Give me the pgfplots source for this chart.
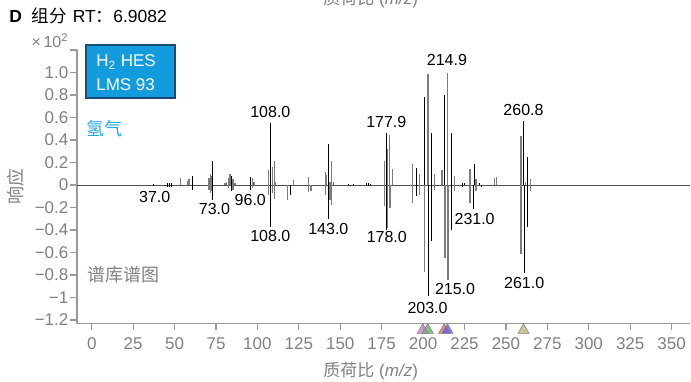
\documentclass[border=0pt]{standalone}
\usepackage{fontspec}
\setmainfont{Liberation Sans}
\newfontfamily\cjk{Noto Sans CJK SC}
\usepackage{pgfplots}
\usepackage{pgfplotstable}
\pgfplotsset{compat=1.18}
\definecolor{axgray}{HTML}{9A9A9A}
\definecolor{tlgray}{HTML}{808080}
\definecolor{specgray}{HTML}{7C7C7C}
\definecolor{zerogray}{HTML}{505050}
\definecolor{boxblue}{HTML}{139CDD}
\definecolor{boxedge}{HTML}{1B4B72}
\definecolor{hblue}{HTML}{22A7E6}
\definecolor{tripink}{HTML}{D27AD2}
\definecolor{trigreen}{HTML}{6FAA6F}
\definecolor{trired}{HTML}{E4705A}
\definecolor{triblue}{HTML}{6A5CE6}
\definecolor{triolive}{HTML}{B8B878}

\pgfplotstableread{
mz v
37 0.008
46 0.02
47 0.02
48 0.02
60.6 0.08
73 0.21
84.3 0.08
96 0.074
108 0.55
143 0.364
155 0.01
158 0.012
166 0.015
167 0.015
168 0.01
177.9 0.46
196 0.155
201 0.785
205 0.46
213 0.80
217 0.46
224 0.02
225 0.02
230.8 0.19
234 0.02
260.8 0.57
263 0.245
}\topblack

\pgfplotstableread{
mz v
53.6 0.06
57.6 0.04
58.8 0.05
70.7 0.06
71.5 0.10
72.2 0.08
80.4 0.02
81.5 0.03
82.5 0.06
83.4 0.095
85.3 0.05
86.4 0.02
97.1 0.065
98 0.03
106.5 0.133
109.2 0.16
110.2 0.21
111 0.03
121.7 0.044
130.7 0.07
141.2 0.12
141.8 0.09
143.8 0.03
144.8 0.21
146 0.03
176.6 0.21
178.6 0.317
179.6 0.445
181.7 0.14
193.8 0.19
197.8 0.10
202.9 0.987
206.8 0.10
211.5 0.13
214.9 1.0
219 0.08
228.4 0.14
232 0.05
243 0.06
244.5 0.07
259 0.44
262 0.03
265 0.05
}\topgray

\pgfplotstableread{
mz v
37 -0.012
46 -0.02
47 -0.02
48 -0.02
60.6 -0.04
73 -0.13
84.3 -0.05
96 -0.044
108 -0.37
120 -0.09
143 -0.30
156 -0.01
167 -0.012
178 -0.40
196 -0.10
203 -0.99
205 -0.50
217 -0.40
224 -0.02
230.5 -0.21
235 -0.02
261 -0.78
263 -0.376
}\botblack

\pgfplotstableread{
mz v
70.7 -0.04
71.5 -0.07
72.2 -0.05
82.5 -0.03
85.3 -0.04
97.1 -0.03
106.5 -0.09
109.2 -0.074
110.2 -0.12
118 -0.13
130.7 -0.06
132.3 -0.05
141.2 -0.09
143.8 -0.13
144.8 -0.18
176.6 -0.19
178.6 -0.38
180 -0.20
193.8 -0.16
197.8 -0.085
201 -0.77
206.8 -0.04
213.2 -0.65
215 -0.84
219 -0.05
228.4 -0.16
232 -0.05
259 -0.61
265 -0.05
}\botgray

\begin{document}
\begin{tikzpicture}
\begin{axis}[
  scale only axis, width=367.8pt, height=164.16pt,
  at={(0,0)}, anchor=south west,
  xmin=-8.9, xmax=361.1, ymin=-1.232, ymax=1.2,
  axis x line*=bottom, axis y line*=left,
  axis line style={draw=axgray, line width=0.8pt},
  xtick={0,25,50,75,100,125,150,175,200,225,250,275,300,325,350},
  xticklabels={0,25,50,75,100,125,150,175,200,225,250,275,300,325,350},
  ytick={-1.2,-1.0,-0.8,-0.6,-0.4,-0.2,0,0.2,0.4,0.6,0.8,1.0,1.2},
  yticklabels={−1.2,−1,−0.8,−0.6,−0.4,−0.2,0,0.2,0.4,0.6,0.8,1.0,{}},
  tick align=outside, major tick length=4pt,
  tick style={draw=axgray, line width=0.7pt},
  ticklabel style={font=\fontsize{10.2}{12}\selectfont, text=tlgray},
  yticklabel style={inner sep=1pt},
  xticklabel style={yshift=-1pt},
  clip=false,
]
\addplot[zerogray, line width=0.6pt] coordinates {(-8.9,0) (361.1,0)};
\addplot[ycomb, draw=specgray, line width=0.8pt] table[x=mz,y=v]{\topgray};
\addplot[ycomb, draw=specgray, line width=0.8pt] table[x=mz,y=v]{\botgray};
\addplot[ycomb, draw=black, line width=0.6pt] table[x=mz,y=v]{\topblack};
\addplot[ycomb, draw=black, line width=0.6pt] table[x=mz,y=v]{\botblack};

\addplot[only marks, mark=triangle*, mark size=3.9pt, mark options={fill=tripink, draw=gray, fill opacity=0.8, line width=0.3pt}] coordinates {(199.8,-1.29)};
\addplot[only marks, mark=triangle*, mark size=3.9pt, mark options={fill=trigreen, draw=gray, fill opacity=0.8, line width=0.3pt}] coordinates {(202.8,-1.29)};
\addplot[only marks, mark=triangle*, mark size=3.9pt, mark options={fill=trired, draw=gray, fill opacity=0.8, line width=0.3pt}] coordinates {(212.7,-1.29)};
\addplot[only marks, mark=triangle*, mark size=3.9pt, mark options={fill=triblue, draw=gray, fill opacity=0.8, line width=0.3pt}] coordinates {(214.7,-1.29)};
\addplot[only marks, mark=triangle*, mark size=3.9pt, mark options={fill=triolive, draw=gray, fill opacity=0.8, line width=0.3pt}] coordinates {(260.6,-1.29)};

\begin{scope}[every node/.style={font=\fontsize{9.6}{11}\selectfont, inner sep=0pt}]
\node at (axis cs:38,-0.107) {37.0};
\node at (axis cs:74.1,-0.209) {73.0};
\node at (axis cs:95.7,-0.133) {96.0};
\node at (axis cs:107.8,0.649) {108.0};
\node at (axis cs:107.8,-0.451) {108.0};
\node at (axis cs:142.8,-0.388) {143.0};
\node at (axis cs:177.8,0.563) {177.9};
\node at (axis cs:178.1,-0.458) {178.0};
\node at (axis cs:214.4,1.107) {214.9};
\node at (axis cs:202.7,-1.089) {203.0};
\node at (axis cs:219.3,-0.923) {215.0};
\node at (axis cs:231.1,-0.30) {231.0};
\node at (axis cs:260.6,0.667) {260.8};
\node at (axis cs:261.0,-0.869) {261.0};
\end{scope}
\end{axis}

\begin{scope}[shift={(-46.2pt,194.16pt)},x=0.6pt,y=-0.6pt]
\node[anchor=base west, inner sep=0pt, font=\fontsize{10.5}{12}\selectfont] at (9,22) {\textbf{D}\hspace{6pt}{\cjk 组分}\hspace{3.5pt}RT{\cjk ：}6.9082};
\node[anchor=center, inner sep=0pt, text=tlgray, font=\fontsize{9.6}{11}\selectfont] at (50,41) {×\,10\textsuperscript{2}};
\draw[fill=boxblue, draw=boxedge, line width=0.9pt] (86,45) rectangle (175,98);
\node[anchor=base west, inner sep=0pt, text=white, font=\fontsize{10.2}{12}\selectfont] at (96,66.7) {H\textsubscript{2} HES};
\node[anchor=base west, inner sep=0pt, text=white, font=\fontsize{10.2}{12}\selectfont] at (96,90.7) {LMS 93};
\node[anchor=center, inner sep=0pt, text=hblue, font=\cjk\fontsize{10.8}{12}\selectfont] at (104.7,128.7) {氢气};
\node[anchor=center, inner sep=0pt, text=tlgray, font=\cjk\fontsize{10.8}{12}\selectfont] at (123,275) {谱库谱图};
\node[anchor=center, inner sep=0pt, text=tlgray, rotate=90, font=\cjk\fontsize{10.8}{12}\selectfont] at (16,186) {响应};
\node[anchor=center, inner sep=0pt, text=tlgray, font=\fontsize{10.2}{12}\selectfont] at (370.7,371.5) {{\cjk 质荷比}\ (\textit{m/z})};
\node[anchor=base, inner sep=0pt, text=tlgray, font=\fontsize{10.2}{12}\selectfont] at (370.7,4) {{\cjk 质荷比}\ (\textit{m/z})};
\end{scope}

\pgfresetboundingbox
\path[use as bounding box] (-46.2pt,-34.44pt) rectangle (368.4pt,194.16pt);
\end{tikzpicture}
\end{document}
